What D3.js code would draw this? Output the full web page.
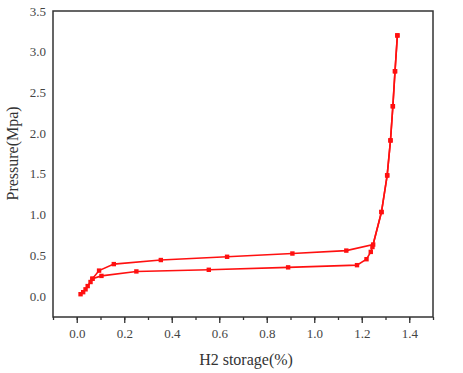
<!DOCTYPE html>
<html>
<head>
<meta charset="utf-8">
<script src="https://cdn.jsdelivr.net/npm/d3@7"></script>
<style>
  body { margin: 0; background: #fff; }
  text { font-family: "Liberation Serif", "Times New Roman", serif; }
</style>
</head>
<body>
<svg id="chart" width="463" height="373"></svg>
<script>
// adsorption branch (lower curve up to the steep rise)
const adsX = [0.016, 0.027, 0.037, 0.046, 0.058, 0.066, 0.104, 0.251, 0.556, 0.890, 1.180, 1.220, 1.238, 1.245, 1.283, 1.307, 1.321, 1.331, 1.340, 1.350];
const adsY = [0.02, 0.045, 0.08, 0.12, 0.17, 0.21, 0.245, 0.30, 0.32, 0.35, 0.377, 0.45, 0.54, 0.60, 1.03, 1.48, 1.91, 2.33, 2.76, 3.20];
// desorption branch (upper curve)
const desX = [1.350, 1.340, 1.331, 1.321, 1.307, 1.283, 1.248, 1.135, 0.908, 0.633, 0.354, 0.156, 0.094, 0.066];
const desY = [3.20, 2.76, 2.33, 1.91, 1.48, 1.03, 0.63, 0.556, 0.52, 0.48, 0.44, 0.39, 0.31, 0.21];

const xTicks = [0.0, 0.2, 0.4, 0.6, 0.8, 1.0, 1.2, 1.4];
const yTicks = [0.0, 0.5, 1.0, 1.5, 2.0, 2.5, 3.0, 3.5];

const margin = { top: 11, right: 30, bottom: 56, left: 53 };
const width = 463 - margin.left - margin.right;
const height = 373 - margin.top - margin.bottom;

const svg = d3.select("#chart")
  .append("g")
  .attr("transform", `translate(${margin.left},${margin.top})`);

const x = d3.scaleLinear().domain([-0.1, 1.5]).range([0, width]);
const y = d3.scaleLinear().domain([-0.26, 3.5]).range([height, 0]);

const axisColor = "#333";
const labelColor = "#444";

// minor x ticks
svg.append("g")
  .attr("transform", `translate(0,${height})`)
  .call(d3.axisBottom(x).tickValues(d3.range(-0.1, 1.51, 0.1)).tickSize(3).tickFormat(""))
  .call(g => g.select(".domain").remove())
  .selectAll("line").attr("stroke", axisColor).attr("stroke-width", 1.3);

// major x ticks
const xAxis = svg.append("g")
  .attr("transform", `translate(0,${height})`)
  .call(d3.axisBottom(x).tickValues(xTicks).tickSize(6).tickPadding(6).tickFormat(d3.format(".1f")));
xAxis.select(".domain").remove();
xAxis.selectAll("line").attr("stroke", axisColor).attr("stroke-width", 1.3);
xAxis.selectAll("text").attr("fill", labelColor).style("font-size", "13px");

// y axis labels (no tick marks)
const yAxis = svg.append("g")
  .call(d3.axisLeft(y).tickValues(yTicks).tickSize(0).tickPadding(7).tickFormat(d3.format(".1f")));
yAxis.select(".domain").remove();
yAxis.selectAll("text").attr("fill", labelColor).style("font-size", "13px");

// frame
svg.append("rect")
  .attr("x", 0).attr("y", 0)
  .attr("width", width).attr("height", height)
  .attr("fill", "none")
  .attr("stroke", axisColor)
  .attr("stroke-width", 1.5);

const line = d3.line().x(d => x(d[0])).y(d => y(d[1]));
const ads = adsX.map((v, i) => [v, adsY[i]]);
const des = desX.map((v, i) => [v, desY[i]]);

[ads, des].forEach(series => {
  svg.append("path")
    .datum(series)
    .attr("fill", "none")
    .attr("stroke", "#ff1010")
    .attr("stroke-width", 1.6)
    .attr("d", line);

  svg.append("g").selectAll("rect")
    .data(series)
    .enter()
    .append("rect")
    .attr("x", d => x(d[0]) - 2.2)
    .attr("y", d => y(d[1]) - 2.2)
    .attr("width", 4.4)
    .attr("height", 4.4)
    .attr("fill", "#ff1010");
});

svg.append("text")
  .attr("x", width / 2 + 3)
  .attr("y", height + 48)
  .attr("text-anchor", "middle")
  .attr("fill", "#333")
  .style("font-size", "16px")
  .text("H2 storage(%)");

svg.append("text")
  .attr("transform", "rotate(-90)")
  .attr("x", -y(1.75))
  .attr("y", -35)
  .attr("text-anchor", "middle")
  .attr("fill", "#333")
  .style("font-size", "16px")
  .text("Pressure(Mpa)");
</script>
</body>
</html>
